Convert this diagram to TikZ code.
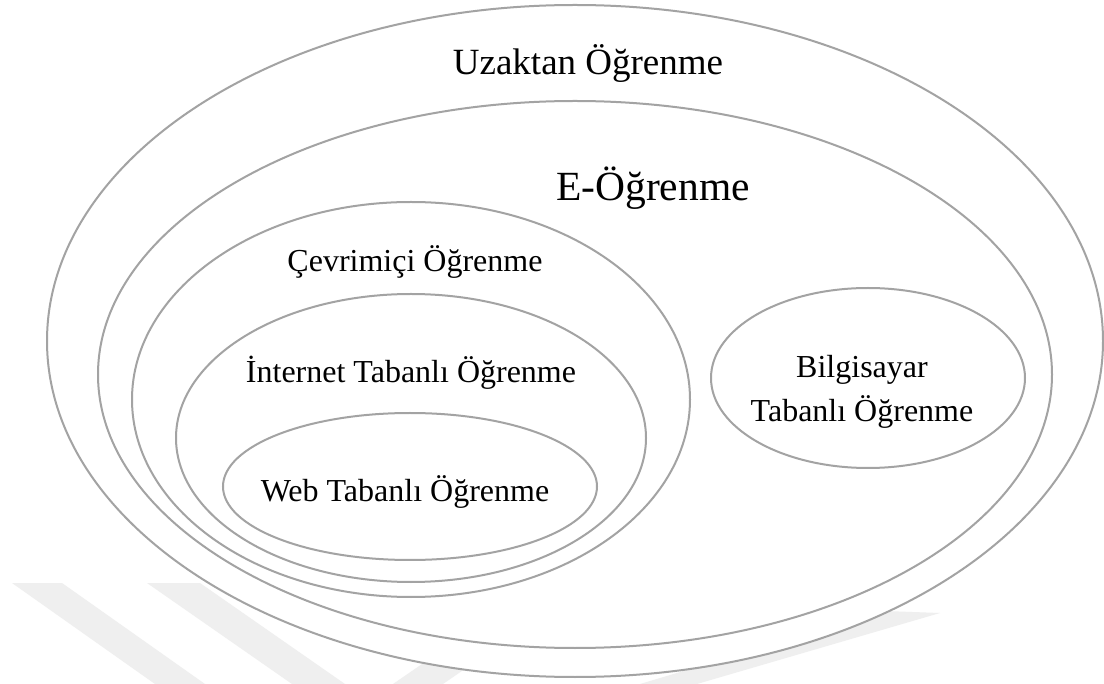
\documentclass[tikz,border=0pt]{standalone}
\usepackage{fontspec}
\setmainfont{Liberation Serif}
\usetikzlibrary{shapes.geometric}
\definecolor{ringgray}{HTML}{A3A3A3}
\definecolor{wmgray}{HTML}{EFEFEF}
\begin{document}
\begin{tikzpicture}[x=1pt,y=-1pt,
  ring/.style={ellipse,draw=ringgray,line width=2pt,fill=white,inner sep=0pt,outer sep=0pt},
  lbl/.style={anchor=base,inner sep=0pt,outer sep=0pt,text=black},
  wm/.style={fill=wmgray}]
\useasboundingbox (0,0) rectangle (1104,684);
\fill[white] (0,0) rectangle (1104,684);
% faint watermark stripes
\fill[wm] (12,583) -- (62,583) -- (205,684) -- (155,684) -- cycle;
\fill[wm] (147,583) -- (200,583) -- (345,684) -- (292,684) -- cycle;
\fill[wm] (393,684) -- (443,684) -- (590,583) -- (540,583) -- cycle;
\fill[wm] (640,684) -- (697,684) -- (940,613) -- (885,611) -- cycle;
% ellipses
\node[ring,minimum width=1056pt,minimum height=672pt] (uzaktan) at (575,341) {};
\node[ring,minimum width=954pt,minimum height=547pt] (eog) at (575,374.5) {};
\node[ring,minimum width=558pt,minimum height=395pt] (cevrim) at (411,399.5) {};
\node[ring,minimum width=470pt,minimum height=288pt] (internet) at (411,438) {};
\node[ring,minimum width=374pt,minimum height=147pt] (web) at (410,486.5) {};
\node[ring,minimum width=314pt,minimum height=180pt] (bilg) at (868,378) {};
% labels
\node[lbl,font=\fontsize{37}{44}\selectfont] (tuz) at (588,75) {Uzaktan Öğrenme};
\node[lbl,font=\fontsize{41.5}{48}\selectfont] (teog) at (653,200.5) {E-Öğrenme};
\node[lbl,font=\fontsize{32}{38}\selectfont] (tcev) at (415,272) {Çevrimiçi Öğrenme};
\node[lbl,font=\fontsize{32}{38}\selectfont] (tint) at (411,383) {İnternet Tabanlı Öğrenme};
\node[lbl,font=\fontsize{32}{38}\selectfont] (tweb) at (405,502) {Web Tabanlı Öğrenme};
\node[lbl,font=\fontsize{32}{44}\selectfont,align=center] (tbil) at (862,422) {Bilgisayar\\Tabanlı Öğrenme};
\end{tikzpicture}
\end{document}
